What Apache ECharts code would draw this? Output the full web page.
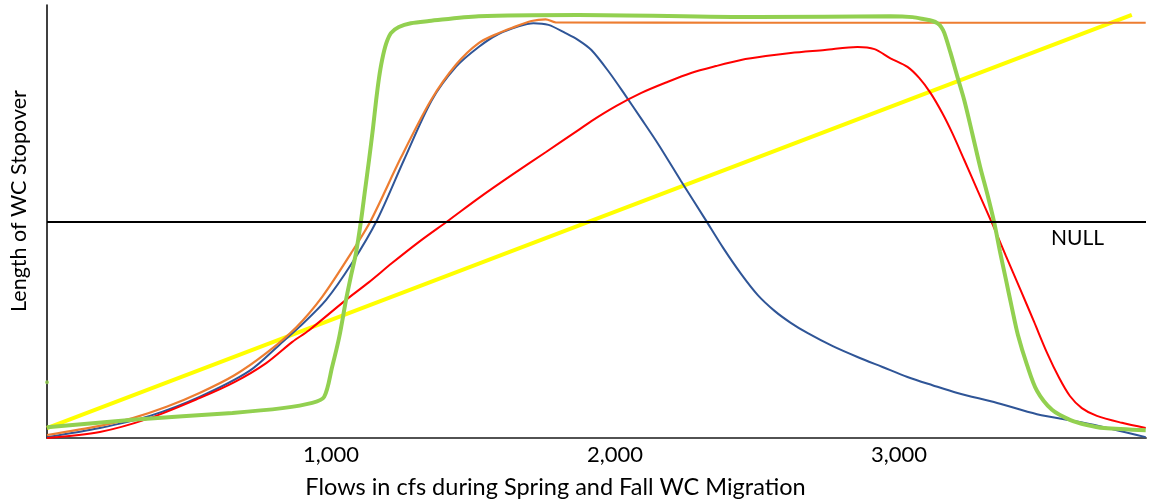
<!DOCTYPE html>
<html>
<head>
<meta charset="utf-8">
<script src="https://cdn.jsdelivr.net/npm/echarts@6/dist/echarts.min.js"></script>
<style>
  html, body { margin: 0; padding: 0; background: #ffffff; }
  #chart { width: 1149px; height: 504px; }
</style>
</head>
<body>
<div id="chart"></div>
<script>
// x: flow (cfs), y: relative length of WC stopover (0-100, NULL at 50)
const xTickLabels = [1000, 2000, 3000];
const nullLevel = 50;

const blueCurve = [[0,0.2],[186,2.3],[362,5.1],[537,9.5],[713,15.5],[818,21.5],[888,25.6],[983,31.9],[1074,40.4],[1162,50.3],[1257,64.2],[1355,78.0],[1440,85.7],[1520,90.3],[1590,93.3],[1661,95.1],[1713,95.8],[1766,95.4],[1826,93.5],[1871,91.9],[1917,89.6],[1977,84.7],[2036,79.2],[2093,73.7],[2152,67.9],[2233,59.3],[2317,50.6],[2381,43.9],[2444,37.9],[2503,33.0],[2563,29.3],[2619,26.6],[2679,24.2],[2767,21.2],[2854,18.7],[2942,16.4],[3030,14.1],[3118,12.2],[3206,10.4],[3346,8.1],[3486,5.5],[3637,3.7],[3750,2.1],[3869,0.2]];

const orangeCurve = [[0,0.7],[186,2.8],[302,4.6],[421,7.2],[537,10.4],[660,14.5],[772,19.6],[878,25.6],[969,32.6],[1071,42.7],[1141,50.3],[1246,64.7],[1352,78.0],[1440,86.2],[1520,91.2],[1590,93.5],[1636,94.7],[1706,96.3],[1756,96.7],[1791,96.0],[2500,95.9],[3200,95.9],[3869,95.9]];

const redCurve = [[0,0],[186,1.4],[362,4.6],[537,9.2],[660,12.9],[772,17.3],[864,22.2],[923,24.9],[1053,31.9],[1134,36.0],[1215,40.4],[1310,45.3],[1415,50.3],[1520,55.4],[1636,60.7],[1756,66.0],[1871,71.1],[1917,73.2],[2005,76.7],[2093,79.7],[2180,82.1],[2268,84.3],[2356,85.9],[2444,87.3],[2531,88.2],[2619,88.9],[2739,89.6],[2854,90.3],[2914,89.8],[2970,87.7],[3030,85.7],[3072,83.1],[3111,79.7],[3153,75.0],[3188,70.4],[3230,64.2],[3276,57.3],[3328,49.6],[3377,42.0],[3427,34.4],[3476,26.8],[3522,19.6],[3564,13.9],[3602,9.7],[3644,6.9],[3697,5.1],[3785,3.5],[3869,2.3]];

const greenCurve = [[0,2.5],[302,4.2],[653,5.8],[829,6.9],[934,8.1],[976,9.5],[1004,16.4],[1029,23.3],[1053,31.9],[1071,37.6],[1088,42.7],[1106,50.3],[1120,57.3],[1134,64.2],[1148,71.6],[1159,78.0],[1169,83.1],[1180,87.3],[1194,91.0],[1211,93.5],[1239,94.9],[1281,95.8],[1345,96.3],[1520,97.4],[1871,97.7],[2503,97.2],[2970,97.4],[3048,97.2],[3090,96.7],[3118,96.3],[3135,95.8],[3149,94.9],[3160,93.5],[3181,89.1],[3206,83.4],[3230,78.0],[3258,70.4],[3286,62.6],[3311,56.4],[3335,49.9],[3356,43.0],[3377,36.5],[3398,30.0],[3419,23.8],[3451,16.9],[3486,10.9],[3539,6.5],[3602,4.2],[3662,3.0],[3722,2.3],[3869,1.8]];

const yellowLine = [[0,2.3],[3820,97.7]];

const greenDot = [[0,12.9]];

const chart = echarts.init(document.getElementById('chart'));
const font = 'Lato, "Open Sans", sans-serif';

chart.setOption({
  animation: false,
  backgroundColor: '#ffffff',
  grid: { left: 47, right: 0, top: 5, bottom: 66 },
  xAxis: [{
    type: 'value', min: 0, max: 3870, interval: 1000,
    axisLine: { show: true, onZero: false, lineStyle: { color: '#000', width: 1.5 } },
    axisTick: { show: false },
    splitLine: { show: false },
    axisLabel: {
      color: '#000', fontFamily: font, fontSize: 22, margin: 6,
      formatter: v => xTickLabels.includes(v) ? v.toLocaleString('en-US') : ''
    },
    name: 'Flows in cfs during Spring and Fall WC Migration',
    nameLocation: 'middle', nameGap: 37,
    nameTextStyle: { color: '#000', fontFamily: font, fontSize: 23.5, padding: [0, 82, 0, 0] }
  }, {
    type: 'value', position: 'top', min: 0, max: 3870,
    axisLine: { show: true, lineStyle: { color: '#595959', width: 1.5 } },
    axisTick: { show: false }, axisLabel: { show: false }, splitLine: { show: false }
  }],
  yAxis: {
    type: 'value', min: 0, max: 100,
    axisLine: { show: true, onZero: false, lineStyle: { color: '#000', width: 1.5 } },
    axisTick: { show: false }, axisLabel: { show: false }, splitLine: { show: false },
    name: 'Length of WC Stopover', nameLocation: 'middle', nameGap: 17, nameRotate: 90,
    nameTextStyle: { color: '#000', fontFamily: font, fontSize: 21.5, padding: [0, 0, 0, 41] }
  },
  series: [
    {
      name: 'Null', type: 'line', data: [], silent: true,
      markLine: {
        symbol: 'none', silent: true, animation: false,
        lineStyle: { color: '#000', width: 2, type: 'solid' },
        label: {
          show: true, position: 'insideEndBottom', formatter: 'NULL',
          color: '#000', fontFamily: font, fontSize: 21, padding: [1, 37, 0, 0]
        },
        data: [{ yAxis: nullLevel }]
      }
    },
    { name: 'Yellow', type: 'line', data: yellowLine, showSymbol: false,
      lineStyle: { color: '#FFFF00', width: 4 }, itemStyle: { color: '#FFFF00' } },
    { name: 'Blue', type: 'line', data: blueCurve, showSymbol: false, smooth: 0.3,
      lineStyle: { color: '#2F5597', width: 2 }, itemStyle: { color: '#2F5597' } },
    { name: 'Orange', type: 'line', data: orangeCurve, showSymbol: false, smooth: 0.3,
      lineStyle: { color: '#ED7D31', width: 2.2 }, itemStyle: { color: '#ED7D31' } },
    { name: 'Red', type: 'line', data: redCurve, showSymbol: false, smooth: 0.3,
      lineStyle: { color: '#FF0000', width: 2 }, itemStyle: { color: '#FF0000' } },
    { name: 'Green', type: 'line', data: greenCurve, showSymbol: false, smooth: 0.3,
      lineStyle: { color: '#92D050', width: 4 }, itemStyle: { color: '#92D050' } },
    { name: 'Green point', type: 'scatter', data: greenDot, symbolSize: 4,
      itemStyle: { color: '#92D050' } }
  ]
});
</script>
</body>
</html>
